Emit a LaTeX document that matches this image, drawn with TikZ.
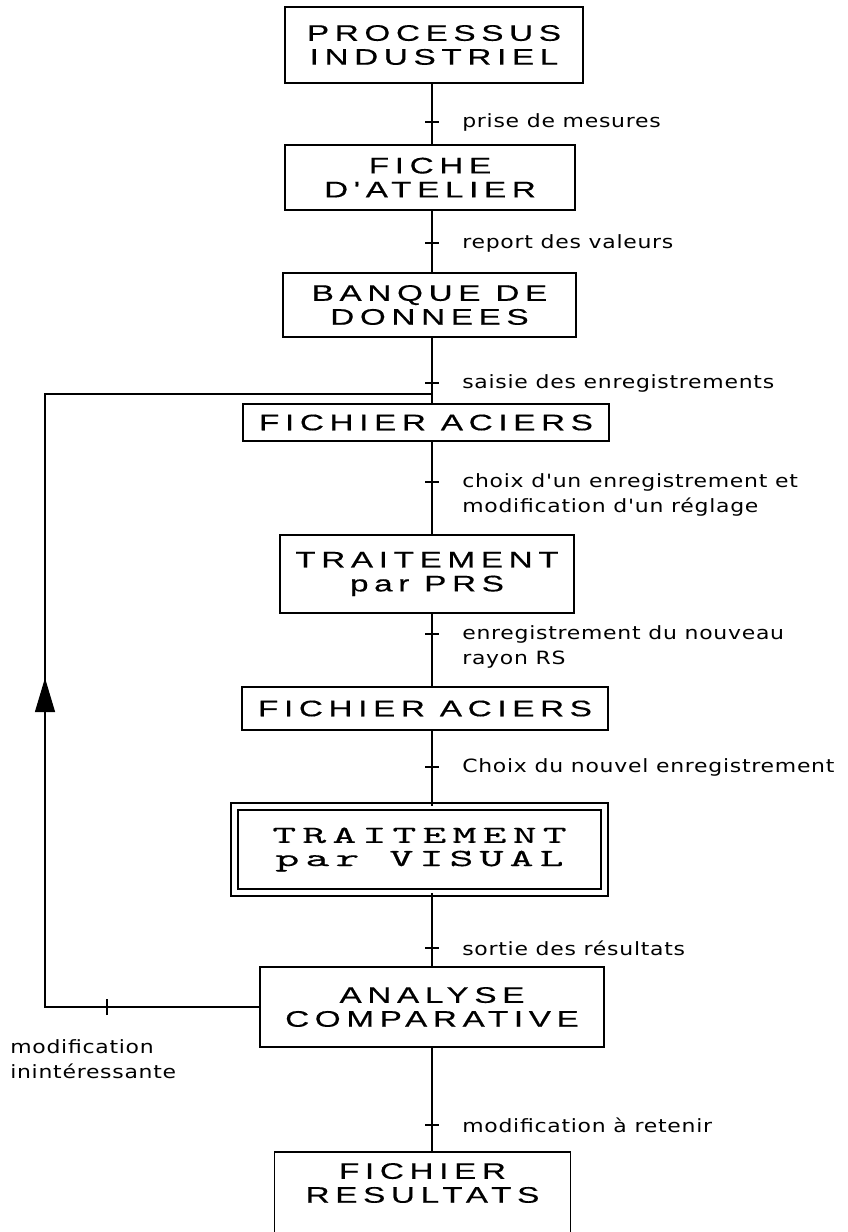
\documentclass[tikz,border=0pt]{standalone}
\usepackage{fontspec}
\usetikzlibrary{positioning,arrows.meta}
\newfontfamily\boxfont[FakeStretch=1.48,LetterSpace=25,FakeBold=0.4]{Liberation Sans}
\newfontfamily\visfont[FakeStretch=1.85,LetterSpace=25,FakeBold=0.4]{lmmono10-regular.otf}
\newfontfamily\lblfont[FakeStretch=1.2,LetterSpace=4]{DejaVu Sans}

\tikzset{
  box/.style={draw, line width=0.9pt, inner sep=0pt, align=center,
    font={\boxfont\fontsize{16}{17}\selectfont}},
  lbl/.style={inner sep=0pt, align=left, font={\lblfont\fontsize{13}{17.8}\selectfont}},
  link/.style={line width=0.8pt},
}

\begin{document}
\begin{tikzpicture}[x=0.025cm, y=-0.025cm]
    \clip (0,0) rectangle (848,1232);
    \fill[white] (0,0) rectangle (848,1232);
    \coordinate (sp) at (432,0);

    % boxes
    \node[box, minimum width=7.45cm, minimum height=1.9cm] (proc) at (434,45) {PROCESSUS\\INDUSTRIEL};
    \node[box, minimum width=7.25cm, minimum height=1.625cm] (fiche) at (430,177.5) {FICHE\\D'ATELIER};
    \node[box, minimum width=7.325cm, minimum height=1.6cm] (banque) at (429.5,305) {BANQUE DE\\DONNEES};
    \node[box, minimum width=9.15cm, minimum height=0.925cm] (acier1) at (426,422.5) {FICHIER ACIERS};
    \node[box, minimum width=7.35cm, minimum height=1.95cm] (prs) at (427,574) {TRAITEMENT\\par PRS};
    \node[box, minimum width=9.15cm, minimum height=1.075cm] (acier2) at (425,708.5) {FICHIER ACIERS};
    \node[box, double, double distance=4pt, font={\visfont\fontsize{17.5}{16.5}\selectfont},
          minimum width=9.25cm, minimum height=2.15cm] (visual) at (419.5,849.5) {TRAITEMENT\\par VISUAL};
    \node[box, minimum width=8.6cm, minimum height=2cm] (analyse) at (432,1007) {ANALYSE\\COMPARATIVE};

    % last box, cut by the page edge
    \coordinate (b9top) at (422.5,1152);
    \node[box, draw=none, minimum width=7.375cm] (result) at (422.5,1183) {FICHIER\\RESULTATS};
    \draw[line width=0.9pt] ([yshift=-3cm]result.south west) -- (result.west |- b9top)
        -- (result.east |- b9top) -- ([yshift=-3cm]result.south east);

    % main line
    \draw[link] (proc.south -| sp) -- (fiche.north -| sp);
    \draw[link] (fiche.south -| sp) -- (banque.north -| sp);
    \draw[link] (banque.south -| sp) -- (acier1.north -| sp);
    \draw[link] (acier1.south -| sp) -- (prs.north -| sp);
    \draw[link] (prs.south -| sp) -- (acier2.north -| sp);
    \draw[link] (acier2.south -| sp) -- (visual.north -| sp);
    \draw[link] (visual.south -| sp) -- (analyse.north -| sp);
    \draw[link] (analyse.south -| sp) -- (sp |- b9top);

    \foreach \n/\y in {1/122, 2/243, 3/383, 4/482, 5/634, 6/767, 7/948, 8/1125}
        \coordinate (t\n) at (432,\y);
    \foreach \n in {1,...,8}
        \draw[link] ([xshift=-0.175cm]t\n) -- ([xshift=0.175cm]t\n);

    \node[lbl, right=0.75cm of t1] (l1) {prise de mesures};
    \node[lbl, right=0.75cm of t2] (l2) {report des valeurs};
    \node[lbl, right=0.75cm of t3] (l3) {saisie des enregistrements};
    \node[lbl, anchor=west] (l4) at ([xshift=0.75cm, yshift=-0.3125cm]t4) {choix d'un enregistrement et\\modification d'un réglage};
    \node[lbl, anchor=west] (l5) at ([xshift=0.75cm, yshift=-0.3125cm]t5) {enregistrement du nouveau\\rayon RS};
    \node[lbl, right=0.75cm of t6] (l6) {Choix du nouvel enregistrement};
    \node[lbl, right=0.75cm of t7] (l7) {sortie des résultats};
    \node[lbl, right=0.75cm of t8] (l8) {modification à retenir};

    % feedback loop
    \coordinate (fb1) at (45,1007);
    \coordinate (fb2) at (45,394);
    \coordinate (fbtip) at (45,678);
    \coordinate (t9) at (107,1007);
    \draw[link] (analyse.west) -- (fb1) -- (fb2) -- (sp |- fb2);
    \draw[link, -{Triangle[width=0.5cm,length=0.85cm]}] (fb1) -- (fbtip);
    \draw[link] ([yshift=-0.2cm]t9) -- ([yshift=0.2cm]t9);
    \node[lbl, anchor=west] (lfb) at (10,1059) {modification\\inintéressante};
\end{tikzpicture}
\end{document}
